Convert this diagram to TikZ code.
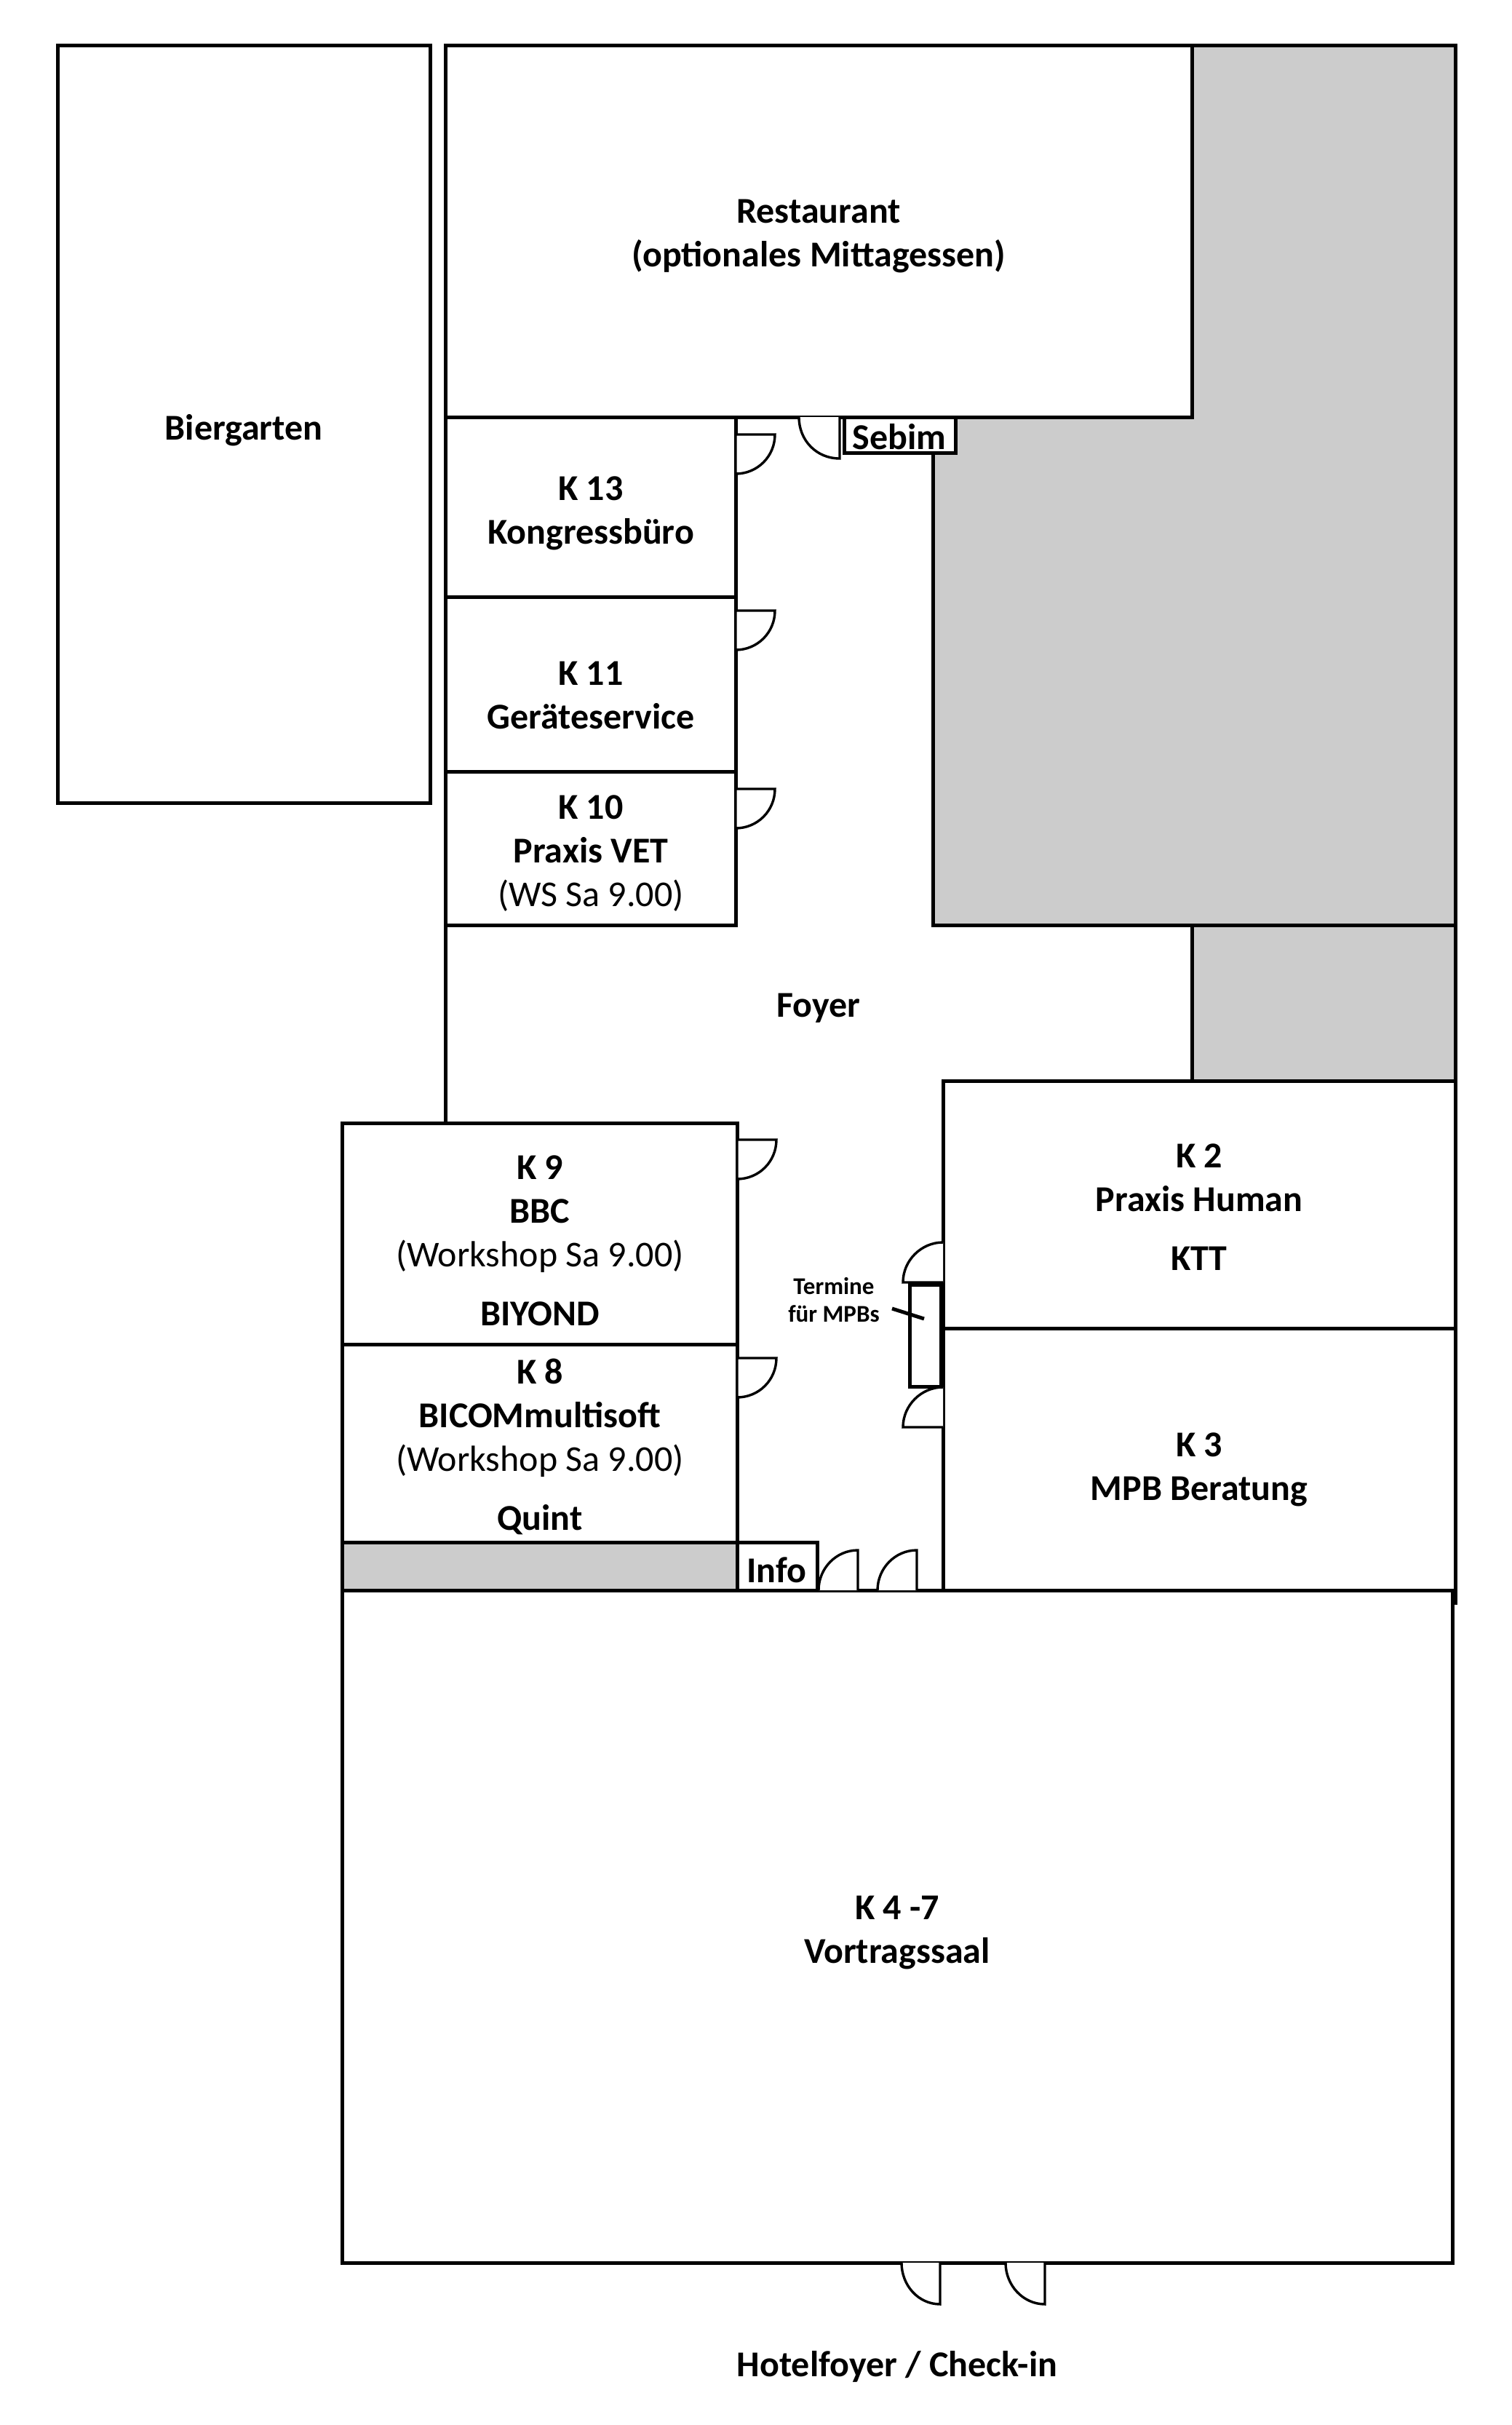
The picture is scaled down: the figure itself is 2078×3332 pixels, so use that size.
\documentclass[tikz,border=0pt]{standalone}
\usepackage{fontspec}
\setmainfont{Carlito}

\tikzset{
  wall/.style={line width=2.5pt},
  door/.style={line width=1.7pt,fill=white},
  roomlabel/.style={inner sep=0.75pt,align=center,font=\fontsize{25}{30}\selectfont\bfseries},
  smalllabel/.style={inner sep=0.75pt,align=center,font=\fontsize{16.5}{19}\selectfont\bfseries},
}
\newcommand{\roomnote}[1]{{\normalfont #1}}

\begin{document}
\begin{tikzpicture}[x=0.5pt,y=0.5pt,yscale=-1,xscale=1]
\useasboundingbox (0,0) rectangle (2078,3332);

%Shape: grey area upper right
\draw [wall,fill={rgb, 255:red, 204; green, 204; blue, 204},fill opacity=1] (1638,62) -- (2000,62) -- (2000,1271) -- (1282,1271) -- (1282,573) -- (1638,573) -- cycle ;
%Shape: grey area beside K 2
\draw [wall,fill={rgb, 255:red, 204; green, 204; blue, 204},fill opacity=1] (1638,1271) -- (2000,1271) -- (2000,1485) -- (1638,1485) -- cycle ;
%Shape: grey strip below K 8
\draw [wall,fill={rgb, 255:red, 204; green, 204; blue, 204},fill opacity=1] (470,2119) -- (1013,2119) -- (1013,2185) -- (470,2185) -- cycle ;

%Shape: Biergarten
\draw [wall] (79,62) rectangle (591,1103) ;
%Shape: Restaurant
\draw [wall] (612,62) rectangle (1638,573) ;
%Shape: K 13
\draw [wall] (612,573) rectangle (1011,820) ;
%Shape: K 11
\draw [wall] (612,820) rectangle (1011,1060) ;
%Shape: K 10
\draw [wall] (612,1060) rectangle (1011,1271) ;
%Straight Lines: foyer wall
\draw [wall] (612,1271) -- (612,1543) ;
%Shape: K 9
\draw [wall] (470,1543) rectangle (1013,1847) ;
%Shape: K 8
\draw [wall] (470,1847) rectangle (1013,2119) ;
%Shape: K 2
\draw [wall] (1296,1485) rectangle (2000,1825) ;
%Shape: K 3
\draw [wall] (1296,1825) -- (2000,1825) -- (2000,2205) ;
\draw [wall] (1296,1825) -- (1296,2185) ;
%Shape: K 4 -7
\draw [wall] (470,2185) rectangle (1996,3109) ;
%Shape: Sebim
\draw [wall,fill=white] (1160,573) rectangle (1313,622) ;
%Shape: Info
\draw [wall,fill=white] (1013,2119) rectangle (1123,2185) ;
%Shape: Termine
\draw [wall,fill=white] (1250,1765) rectangle (1293,1905) ;
%Straight Lines: Termine pointer
\draw [wall] (1226,1798) -- (1270,1812) ;

%Doors foyer, left side
\draw [door] (1011,597) -- (1065,597) .. controls (1065,627) and (1041,651) .. (1011,651) -- cycle ;
\draw [door] (1011,839) -- (1065,839) .. controls (1065,869) and (1041,893) .. (1011,893) -- cycle ;
\draw [door] (1011,1084) -- (1065,1084) .. controls (1065,1114) and (1041,1138) .. (1011,1138) -- cycle ;
\draw [door] (1013,1566) -- (1067,1566) .. controls (1067,1596) and (1043,1620) .. (1013,1620) -- cycle ;
\draw [door] (1013,1866) -- (1067,1866) .. controls (1067,1896) and (1043,1920) .. (1013,1920) -- cycle ;
%Door below restaurant
\draw [door] (1154,573) -- (1154,630) .. controls (1122,630) and (1098,605) .. (1098,573) ;
%Doors K 2, K 3
\draw [door] (1296,1762) -- (1241,1762) .. controls (1241,1732) and (1266,1707) .. (1296,1707) ;
\draw [door] (1296,1961) -- (1241,1961) .. controls (1241,1931) and (1266,1906) .. (1296,1906) ;
%Doors K 4 -7, foyer side
\draw [door] (1179,2185) -- (1179,2130) .. controls (1149,2130) and (1125,2155) .. (1125,2185) ;
\draw [door] (1260,2185) -- (1260,2130) .. controls (1230,2130) and (1206,2155) .. (1206,2185) ;
%Doors K 4 -7, hotel side
\draw [door] (1292,3109) -- (1292,3166) .. controls (1262,3166) and (1239,3140) .. (1239,3109) ;
\draw [door] (1436,3109) -- (1436,3166) .. controls (1406,3166) and (1382,3140) .. (1382,3109) ;

% Text Node
\draw (335,591) node (biergarten) [roomlabel] {Biergarten};
% Text Node
\draw (1125,325) node (restaurant) [roomlabel] {Restaurant\\(optionales Mittagessen)};
% Text Node
\draw (1236,600) node (sebim) [roomlabel] {Sebim};
% Text Node
\draw (812,705) node (kthirteen) [roomlabel] {K 13\\Kongressbüro};
% Text Node
\draw (812,955) node (keleven) [roomlabel] {K 11\\Geräteservice};
% Text Node
\draw (812,1173) node (kten) [roomlabel] {K 10\\Praxis VET\\\roomnote{(WS Sa 9.00)}};
% Text Node
\draw (1125,1385) node (foyer) [roomlabel] {Foyer};
% Text Node
\draw (742,1705) node (knine) [roomlabel] {K 9\\BBC\\\roomnote{(Workshop Sa 9.00)}\\[10.5pt]BIYOND};
% Text Node
\draw (742,1988) node (keight) [roomlabel] {K 8\\BICOMmultisoft\\\roomnote{(Workshop Sa 9.00)}\\[10.5pt]Quint};
% Text Node
\draw (1648,1659) node (ktwo) [roomlabel] {K 2\\Praxis Human\\[10.5pt]KTT};
% Text Node
\draw (1648,2019) node (kthree) [roomlabel] {K 3\\MPB Beratung};
% Text Node
\draw (1146,1786) node (termine) [smalllabel] {Termine\\für MPBs};
% Text Node
\draw (1067,2157) node (info) [roomlabel] {Info};
% Text Node
\draw (1233,2655) node (saal) [roomlabel] {K 4 -7\\Vortragssaal};
% Text Node
\draw (1233,3252) node (hotelfoyer) [roomlabel] {Hotelfoyer / Check-in};

\end{tikzpicture}
\end{document}
